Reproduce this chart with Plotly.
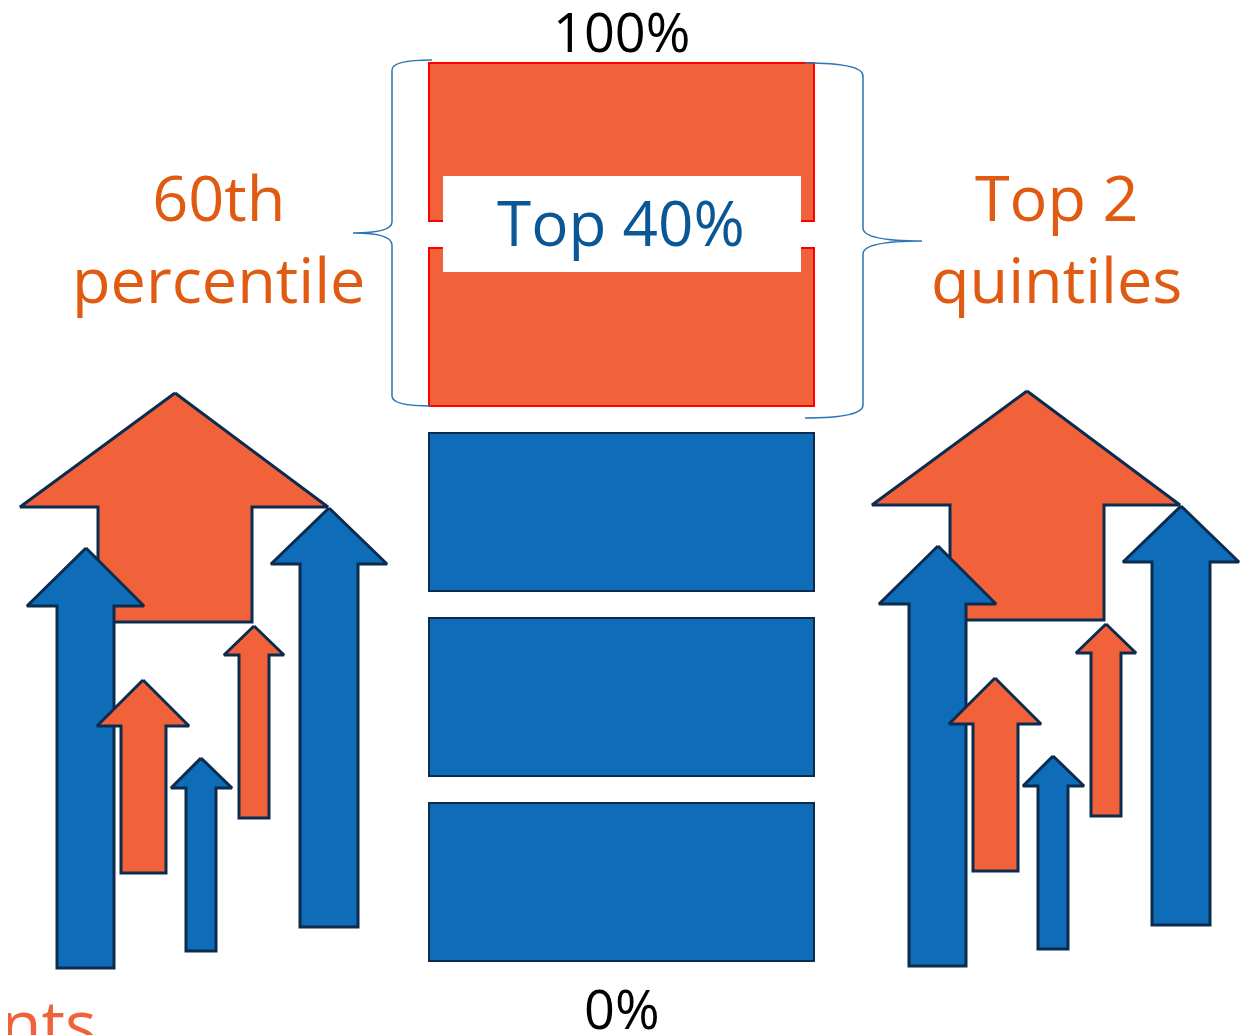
import plotly.graph_objects as go

# ---- data ----
quintiles = [1, 2, 3, 4, 5]
quintile_share = [20, 20, 20, 20, 20]          # percent of distribution per quintile
top_group = [False, False, False, True, True]  # quintiles in the "Top 40%"
scale_labels = ["0%", "100%"]
center_label = "Top 40%"
left_label = "60th<br>percentile"
right_label = "Top 2<br>quintiles"
bottom_fragment = "nts"

# arrows: (tip_x, tip_y, head_base_y, head_left, head_right, shaft_left, shaft_right, bottom, colour)
arrow_kind = ["orange", "blue", "blue", "orange", "orange", "blue"]
arrow_tip_x = [175, 86, 329, 254, 143, 201]
arrow_tip_y = [393, 548, 508, 626, 680, 758]
arrow_head_y = [507, 606, 564, 655, 726, 788]
arrow_head_l = [20, 27, 271, 224, 97, 171]
arrow_head_r = [328, 144, 387, 284, 189, 232]
arrow_shaft_l = [98, 57, 300, 239, 121, 186]
arrow_shaft_r = [252, 114, 358, 269, 166, 216]
arrow_bottom = [622, 968, 927, 818, 873, 951]
group_dx = [0, 852]
group_dy = [0, -2]

ORANGE = "#F2623A"
BLUE = "#0E6CB9"
NAVY = "#0B2C4E"
RED = "#FF0000"
TXT_ORANGE = "#E05A12"
TXT_BLUE = "#0B5796"
BRACE = "#2E75B6"

W, H = 1248, 1035
OFF = 8  # page body margin compensation
ZERO_PX, PX_PER_PCT = 974.5, 9.25
gap_pct = 2.9

fig = go.Figure()

# ---- arrows (pixel coordinates on y2) ----
for gdx, gdy in zip(group_dx, group_dy):
    for i in range(len(arrow_kind)):
        xs = [arrow_tip_x[i], arrow_head_r[i], arrow_shaft_r[i], arrow_shaft_r[i],
              arrow_shaft_l[i], arrow_shaft_l[i], arrow_head_l[i], arrow_tip_x[i]]
        ys = [arrow_tip_y[i], arrow_head_y[i], arrow_head_y[i], arrow_bottom[i],
              arrow_bottom[i], arrow_head_y[i], arrow_head_y[i], arrow_tip_y[i]]
        fig.add_trace(go.Scatter(
            x=[v + gdx for v in xs], y=[v + gdy for v in ys], yaxis="y2",
            mode="lines", fill="toself",
            fillcolor=ORANGE if arrow_kind[i] == "orange" else BLUE,
            line=dict(color=NAVY, width=3), hoverinfo="skip", showlegend=False))

# ---- stacked quintile column (percent axis) ----
bases = []
acc = 0
for s in quintile_share:
    bases.append(acc + gap_pct / 2)
    acc += s
fig.add_trace(go.Bar(
    x=[621.5] * len(quintiles), y=[s - gap_pct for s in quintile_share], base=bases,
    width=385, yaxis="y",
    marker=dict(color=[ORANGE if t else BLUE for t in top_group],
                line=dict(color=[RED if t else NAVY for t in top_group], width=2)),
    hoverinfo="skip", showlegend=False))

shapes = []
# white label box over the top two quintiles
shapes.append(dict(type="rect", xref="x", yref="y2", x0=443, x1=801, y0=176, y1=272,
                   fillcolor="white", line=dict(width=0), layer="above"))
# braces
shapes.append(dict(type="path", xref="x", yref="y2", layer="above",
                   path="M 432 60 Q 392 60 392 70 L 392 222 Q 392 233 353 233 "
                        "Q 392 233 392 245 L 392 396 Q 392 406 431 406",
                   line=dict(color=BRACE, width=1.5)))
shapes.append(dict(type="path", xref="x", yref="y2", layer="above",
                   path="M 805 63 Q 863 63 863 76 L 863 228 Q 863 241 922 241 "
                        "Q 863 241 863 254 L 863 405 Q 863 418 805 418",
                   line=dict(color=BRACE, width=1.5)))

font = "Open Sans, Segoe UI, sans-serif"
annotations = [
    dict(x=621, y=31, text=scale_labels[1], height=50,
         font=dict(size=54, color="black", family=font)),
    dict(x=622, y=1008, text=scale_labels[0], height=50,
         font=dict(size=54, color="black", family=font)),
    dict(x=621, y=222, text=center_label, font=dict(size=62, color=TXT_BLUE, family=font)),
    dict(x=219, y=237, text=left_label, font=dict(size=63, color=TXT_ORANGE, family=font)),
    dict(x=1056, y=237, text=right_label, font=dict(size=63, color=TXT_ORANGE, family=font)),
    dict(x=98, y=1022, text=bottom_fragment, xanchor="right",
         font=dict(size=66, color=ORANGE, family=font)),
]
for a in annotations:
    a.update(xref="x", yref="y2", showarrow=False)
    a.setdefault("xanchor", "center")
    a.setdefault("yanchor", "middle")

fig.update_layout(
    width=W, height=H, margin=dict(l=0, r=0, t=0, b=0),
    paper_bgcolor="white", plot_bgcolor="white",
    xaxis=dict(range=[OFF, W + OFF], visible=False, fixedrange=True),
    yaxis=dict(range=[(ZERO_PX - H - OFF) / PX_PER_PCT, (ZERO_PX - OFF) / PX_PER_PCT],
               visible=False, fixedrange=True),
    yaxis2=dict(range=[H + OFF, OFF], overlaying="y", visible=False, fixedrange=True),
    shapes=shapes, annotations=annotations, barmode="overlay",
)

fig.write_html("out.html")
